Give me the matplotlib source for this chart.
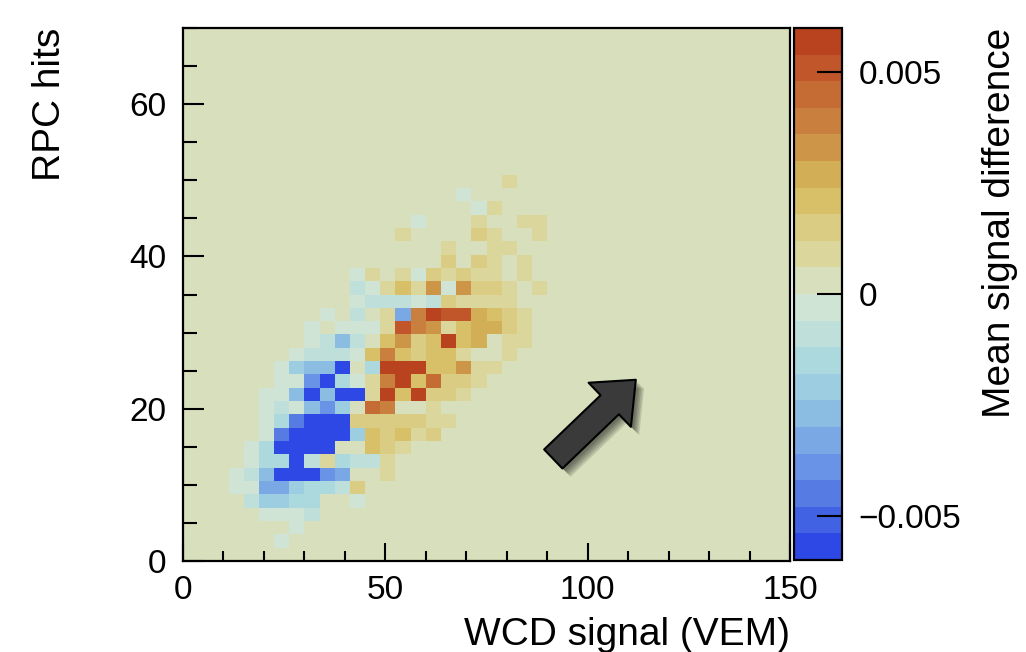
import numpy as np
import matplotlib.pyplot as plt
from matplotlib.colors import ListedColormap, BoundaryNorm
from matplotlib.patches import FancyArrowPatch
import matplotlib.patheffects as pe

plt.rcParams['font.family'] = ['Liberation Sans', 'DejaVu Sans']

# 40 x 40 bins: WCD signal 0-150 VEM, RPC hits 0-70
wcd_edges = np.linspace(0, 150, 41)
rpc_edges = np.linspace(0, 70, 41)

# mean signal difference in units of 1e-3
# rows: RPC bin 28 (top) down to bin 1; columns: WCD bins 3..24
first_wcd_bin = 3
first_rpc_bin = 1
diff_rows = [
    [0, 0, 0, 0, 0, 0, 0, 0, 0, 0, 0, 0, 0, 0, 0, 0, 0, 0, .9, 0, 0, 0],
    [0, 0, 0, 0, 0, 0, 0, 0, 0, 0, 0, 0, 0, 0, 0, -.3, 0, 0, 0, 0, 0, 0],
    [0, 0, 0, 0, 0, 0, 0, 0, 0, 0, 0, 0, 0, 0, 0, 0, -.3, .9, 0, 0, 0, 0],
    [0, 0, 0, 0, 0, 0, 0, 0, 0, 0, 0, 0, -.3, 0, 0, 0, .9, 0, 0, .9, .9, 0],
    [0, 0, 0, 0, 0, 0, 0, 0, 0, 0, 0, .9, 0, 0, 0, 0, 1.5, .9, 0, 0, .9, 0],
    [0, 0, 0, 0, 0, 0, 0, 0, 0, 0, 0, 0, 0, 0, .9, 0, 0, .9, .9, 0, 0, 0],
    [0, 0, 0, 0, 0, 0, 0, 0, 0, 0, 0, 0, 0, 0, 1.5, 0, 1.7, .9, 0, .9, 0, 0],
    [0, 0, 0, 0, 0, 0, 0, 0, -.3, .9, 0, .9, -.3, 1.5, .9, 1.5, .9, .9, 0, .9, 0, 0],
    [0, 0, 0, 0, 0, 0, 0, 0, -.9, -.3, .9, 2.1, .9, 3.3, -.3, 3.3, 1.5, 1.7, .9, 0, .9, 0],
    [0, 0, 0, 0, 0, 0, 0, 0, -.3, -.9, -.9, -.9, -.3, -.9, 1.5, .9, .9, .9, .9, 0, 0, 0],
    [0, 0, 0, 0, 0, 0, -.3, 0, -.9, 0, .9, -3.3, 3.9, 5.8, 5.1, 5.1, 2.7, 2.1, 1.5, .9, 0, 0],
    [0, 0, 0, 0, 0, -.3, 0, -.3, -.3, -.3, .9, 5.1, 3.9, 3.3, .9, 2.1, 2.7, 2.7, 1.5, .9, 0, 0],
    [0, 0, 0, 0, 0, -.3, -.9, -2.7, -.9, 0, 2.1, 3.3, 1.5, 2.1, 5.8, 2.1, 2.7, 0, .9, .9, 0, 0],
    [0, 0, 0, 0, -.3, -.9, -.9, -.9, -.3, 2.1, 3.9, 2.1, 1.7, 2.1, 2.1, .9, 0, 0, .9, 0, 0, 0],
    [0, 0, 0, -.3, -2.1, -2.7, -2.7, -5.8, 0, -1.5, 5.8, 5.8, 5.8, 2.1, 2.1, 3.3, .9, .9, 0, 0, 0, 0],
    [0, 0, 0, -.3, -.3, -3.9, -5.8, -1.5, -.3, .9, 3.9, 5.8, 2.1, 4.5, 1.5, 1.5, .9, 0, 0, 0, 0, 0],
    [0, 0, -.3, -.3, -2.7, -5.8, -2.7, -5.8, -5.8, .9, 5.8, 2.1, 5.8, 1.5, 1.5, .9, 0, 0, 0, 0, 0, 0],
    [0, 0, -.3, -.9, -.3, -2.7, -3.9, -2.1, 0, 4.5, 3.9, 0, 0, .9, 0, 0, 0, 0, 0, 0, 0, 0],
    [0, 0, -.3, -1.5, -4.5, -5.8, -5.8, -5.8, 1.5, 1.5, 1.7, 1.5, 1.7, .9, .9, 0, 0, 0, 0, 0, 0, 0],
    [0, 0, -.3, -4.5, -5.8, -5.8, -5.8, -5.8, -2.1, 2.1, 1.5, 2.1, .9, 1.5, 0, 0, 0, 0, 0, 0, 0, 0],
    [0, -.3, -1.5, -5.8, -5.8, -5.8, -5.8, 0, 0, 2.1, 1.5, .9, 0, 0, 0, 0, 0, 0, 0, 0, 0, 0],
    [0, -.3, -1.5, -1.5, -5.8, -.9, .9, -1.5, -.9, -.9, .9, 0, 0, 0, 0, 0, 0, 0, 0, 0, 0, 0],
    [-.3, -.9, -2.7, -5.8, -5.8, -5.8, -3.9, -3.3, 0, 0, .9, 0, 0, 0, 0, 0, 0, 0, 0, 0, 0, 0],
    [-.3, -.3, -3.3, -3.3, -2.1, -1.5, -1.5, -.9, 1.5, 0, 0, 0, 0, 0, 0, 0, 0, 0, 0, 0, 0, 0],
    [0, -.9, -2.1, -2.1, -1.5, -1.5, 0, 0, -.3, 0, 0, 0, 0, 0, 0, 0, 0, 0, 0, 0, 0, 0],
    [0, 0, -.3, -.3, -.3, -.9, 0, 0, 0, 0, 0, 0, 0, 0, 0, 0, 0, 0, 0, 0, 0, 0],
    [0, 0, 0, 0, -.3, 0, 0, 0, 0, 0, 0, 0, 0, 0, 0, 0, 0, 0, 0, 0, 0, 0],
    [0, 0, 0, -.3, 0, 0, 0, 0, 0, 0, 0, 0, 0, 0, 0, 0, 0, 0, 0, 0, 0, 0],
]

cbar_ticks = [-0.005, 0, 0.005]
cbar_ticklabels = ['\u22120.005', '0', '0.005']

# annotation arrow (data coordinates)
arrow_tail = (91.5, 13.4)
arrow_tip = (111.9, 23.8)

# 20-level palette, from -0.006 up to +0.006
level_colors = [
    '#2e48e5', '#4262e4', '#567ce3', '#6893e6', '#7aa8e5',
    '#8bbde2', '#9ccde0', '#acd9de', '#bfe0da', '#d0e4d6',
    '#d7dfbd', '#dbd69c', '#dbcc84', '#d8c068', '#d2ae57',
    '#cd9548', '#c9803f', '#c56b34', '#c0562a', '#b9421f',
]

block = np.array(diff_rows[::-1]) * 1e-3
z = np.zeros((len(rpc_edges) - 1, len(wcd_edges) - 1))
z[first_rpc_bin:first_rpc_bin + block.shape[0],
  first_wcd_bin:first_wcd_bin + block.shape[1]] = block

cmap = ListedColormap(level_colors)
cmap.set_over(level_colors[-1])
cmap.set_under(level_colors[0])
norm = BoundaryNorm(np.linspace(-0.006, 0.006, 21), cmap.N)

fig = plt.figure(figsize=(10.26, 6.52), dpi=100)
ax = fig.add_axes([183 / 1026, 1 - 561 / 652, 607 / 1026, 533 / 652])
cax = fig.add_axes([794 / 1026, 1 - 560 / 652, 48 / 1026, 532 / 652])

ax.set_facecolor(level_colors[10])
mesh = ax.pcolormesh(wcd_edges, rpc_edges, z, cmap=cmap, norm=norm,
                     antialiased=False, linewidth=0)
ax.set_xlim(0, 150)
ax.set_ylim(0, 70)

ax.set_xticks([0, 50, 100, 150])
ax.set_xticks(np.arange(0, 151, 10), minor=True)
ax.set_yticks([0, 20, 40, 60])
ax.set_yticks(np.arange(0, 71, 5), minor=True)
ax.tick_params(which='both', direction='in', width=1.5, labelsize=24,
               top=False, right=False, colors='black')
ax.tick_params(axis='x', which='major', length=13, pad=10)
ax.tick_params(axis='x', which='minor', length=7)
ax.tick_params(axis='y', which='major', length=15, pad=12)
ax.tick_params(axis='y', which='minor', length=10)
for s in ax.spines.values():
    s.set_linewidth(1.6)

cb = fig.colorbar(mesh, cax=cax, ticks=cbar_ticks)
cb.ax.set_yticklabels(cbar_ticklabels)
cb.ax.minorticks_off()
cb.ax.tick_params(direction='in', length=18, width=1.5, labelsize=24, pad=12)
cb.outline.set_linewidth(1.6)

fig.text(50 / 1026, 1 - 28 / 652, 'RPC hits', rotation=90, ha='center',
         va='top', fontsize=28)
fig.text(790 / 1026, 1 - 645 / 652, 'WCD signal (VEM)', ha='right',
         va='baseline', fontsize=28)
fig.text(1000 / 1026, 1 - 28 / 652, 'Mean signal difference', rotation=90,
         ha='center', va='top', fontsize=28)

# soft drop shadow built from a few faint offset copies
shadow = [pe.SimplePatchShadow(offset=(d, -d), shadow_rgbFace='black', alpha=0.12)
          for d in (2, 3, 4, 5, 6)]
arrow = FancyArrowPatch(
    posA=arrow_tail, posB=arrow_tip,
    arrowstyle='simple,head_length=26,head_width=44,tail_width=19',
    mutation_scale=1, shrinkA=0, shrinkB=0,
    facecolor='#3a3a3a', edgecolor='black', linewidth=1.5,
    path_effects=shadow + [pe.Normal()],
)
ax.add_patch(arrow)

fig.savefig('out.png', dpi=100)
